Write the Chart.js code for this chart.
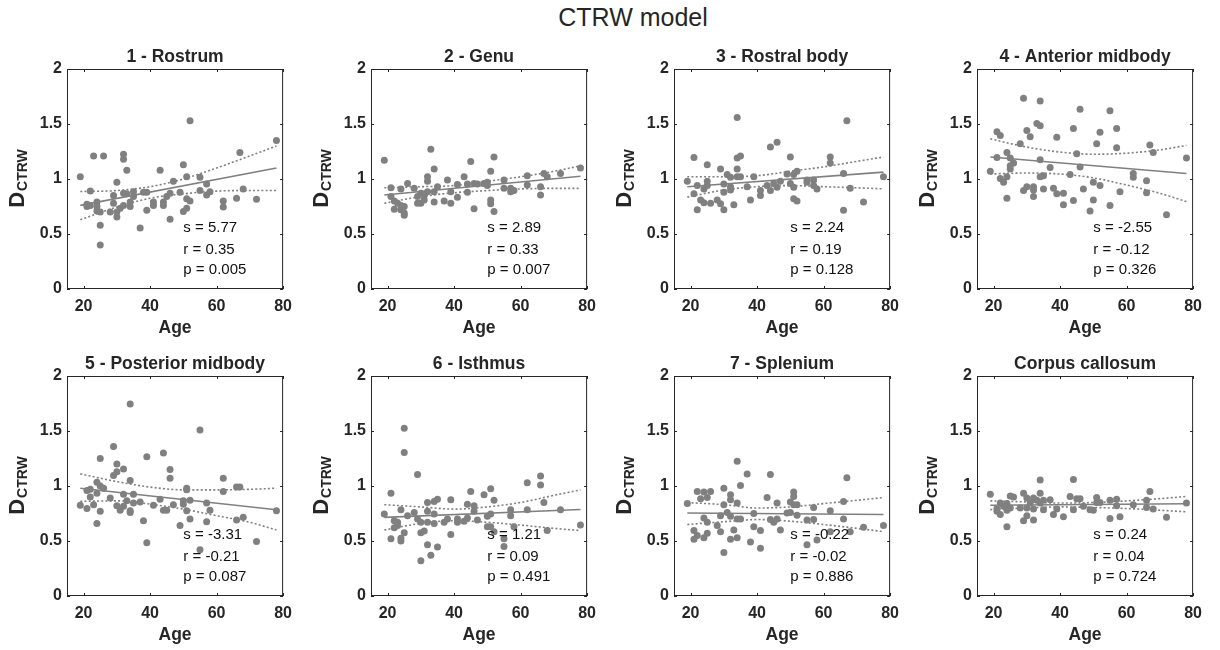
<!DOCTYPE html>
<html lang="en">
<head>
    <meta charset="UTF-8">
    <title>CTRW model</title>
    <script src="https://cdn.jsdelivr.net/npm/chart.js"></script>
    <style>
        body { margin: 0; background: #fff; }
        #wrap { position: relative; width: 1220px; height: 650px; overflow: hidden; }
        #wrap canvas { position: absolute; }
        #mainTitle {
            position: absolute; left: 533px; width: 200px; top: 3px;
            text-align: center; font: 25px "Liberation Sans", Arial, sans-serif; color: #262626;
        }
    </style>
</head>
<body>
<div id="wrap">
    <div id="mainTitle">CTRW model</div>
</div>
<script>
    // ages and D values per region
    const rostrum = [[19,1.02],[23,1.21],[26,1.21],[32,1.225],[32,1.18],[33,1.08],[22,0.89],[21,0.77],[21,0.75],[22,0.76],[24,0.79],[24,0.75],[24,0.71],[25,0.70],[25,0.58],[25,0.40],[28,0.70],[29,0.85],[29,0.78],[30,0.97],[30,0.70],[30,0.655],[31,0.735],[32,0.87],[32,0.76],[33,0.865],[34,0.79],[34,0.75],[35,0.885],[35,0.84],[37,0.555],[38,0.88],[39,0.88],[39,0.715],[41,0.79],[41,0.76],[43,1.08],[44,0.79],[44,0.76],[45,0.84],[46,0.87],[46,0.635],[47,0.98],[49,0.88],[50,1.13],[50,0.705],[51,1.02],[51,0.82],[51,0.735],[52,1.53],[52,0.80],[55,1.015],[55,0.895],[57,0.955],[57,0.855],[58,0.885],[62,0.80],[62,0.745],[66,0.825],[67,1.24],[68,0.91],[72,0.815],[78,1.35]];
    const genu = [[19,1.17],[21,0.92],[21,0.84],[22,0.80],[22,0.725],[23,0.78],[24,0.91],[24,0.76],[24,0.72],[25,0.75],[25,0.69],[25,0.67],[26,0.96],[28,0.915],[29,0.84],[29,0.78],[30,0.87],[30,0.78],[31,0.81],[31,0.85],[32,1.02],[32,0.98],[32,0.885],[33,1.27],[34,1.09],[34,0.79],[34,0.885],[35,0.93],[37,0.80],[38,0.99],[39,0.78],[39,0.885],[41,0.95],[41,0.835],[43,1.02],[44,0.955],[44,0.88],[45,1.16],[46,0.73],[46,0.96],[47,0.955],[49,0.96],[50,0.94],[50,0.97],[51,1.07],[51,0.81],[51,0.775],[52,1.20],[52,0.705],[55,0.99],[55,0.915],[57,0.915],[57,0.885],[58,0.895],[62,1.03],[62,0.945],[66,0.93],[66,0.855],[67,1.05],[68,1.02],[72,1.05],[78,1.10]];
    const rostralBody = [[19,0.98],[21,1.195],[21,0.865],[22,0.94],[22,0.72],[23,0.81],[24,0.785],[24,0.91],[25,1.13],[25,0.98],[25,0.94],[26,0.78],[28,0.81],[29,1.09],[29,0.775],[30,0.955],[30,0.88],[30,0.72],[31,1.04],[32,1.015],[32,0.93],[32,0.90],[33,0.765],[34,1.56],[34,1.19],[34,1.09],[34,1.02],[35,1.21],[35,1.02],[37,0.93],[38,0.81],[39,1.02],[41,0.895],[41,0.85],[43,0.94],[44,1.29],[44,0.895],[45,0.96],[46,1.335],[46,0.925],[47,0.98],[49,1.045],[50,1.20],[50,0.96],[51,1.04],[51,0.925],[51,0.82],[52,1.07],[52,0.80],[55,0.99],[55,0.97],[57,0.99],[57,0.94],[58,0.91],[62,1.20],[62,1.145],[66,1.05],[66,0.715],[67,1.53],[68,0.915],[72,0.79],[78,1.02]];
    const anteriorMidbody = [[19,1.07],[21,1.43],[21,1.195],[22,1.395],[22,1.005],[23,0.97],[24,1.24],[24,1.02],[24,0.825],[25,1.19],[25,1.12],[25,1.09],[26,1.145],[28,1.32],[29,1.735],[29,0.895],[30,1.44],[30,0.93],[31,1.385],[32,0.93],[32,0.90],[32,0.84],[33,1.505],[34,1.71],[34,1.485],[34,1.175],[34,1.02],[35,1.03],[35,0.91],[37,1.105],[38,0.915],[39,1.38],[39,0.865],[41,0.87],[41,0.765],[43,1.04],[44,1.46],[44,0.805],[45,1.23],[46,1.635],[46,1.11],[47,0.91],[49,0.71],[50,0.97],[50,0.81],[51,1.32],[52,1.425],[52,0.94],[55,1.62],[55,0.76],[57,1.46],[57,1.285],[58,0.885],[62,1.05],[62,1.015],[66,0.985],[66,0.875],[67,1.31],[68,1.24],[72,0.675],[78,1.19]];
    const posteriorMidbody = [[19,0.825],[21,0.96],[21,0.795],[22,0.97],[22,0.90],[23,0.83],[24,1.035],[24,0.935],[24,0.66],[25,1.25],[25,0.77],[25,1.00],[26,0.98],[28,0.89],[29,1.36],[29,1.095],[30,1.20],[30,1.13],[30,0.82],[31,0.78],[32,1.155],[32,0.925],[32,0.815],[33,0.865],[34,1.745],[34,1.05],[34,0.775],[34,0.76],[35,0.925],[35,0.845],[37,0.855],[38,0.685],[39,1.265],[39,0.485],[41,0.825],[43,0.88],[44,1.30],[44,0.78],[45,0.78],[46,1.15],[46,1.07],[47,0.83],[49,0.64],[50,0.865],[50,0.835],[51,0.98],[51,0.965],[51,0.775],[52,0.87],[52,0.70],[55,0.42],[55,1.51],[57,0.845],[57,0.675],[58,0.78],[62,1.07],[62,0.95],[66,0.99],[66,0.69],[67,0.99],[68,0.715],[72,0.495],[78,0.775]];
    const isthmus = [[19,0.745],[21,0.935],[21,0.52],[22,0.685],[22,0.62],[23,0.67],[23,0.64],[24,0.785],[24,0.525],[24,0.50],[25,1.525],[25,1.305],[25,0.575],[26,0.73],[28,0.76],[29,1.105],[29,0.70],[30,0.67],[30,0.575],[30,0.32],[31,0.59],[32,0.85],[32,0.77],[32,0.67],[32,0.465],[33,0.37],[34,0.86],[34,0.745],[34,0.66],[35,0.88],[35,0.445],[37,0.67],[38,0.70],[39,0.875],[39,0.56],[41,0.70],[41,0.67],[43,0.68],[44,0.835],[44,0.71],[45,0.95],[46,0.82],[46,0.77],[47,0.69],[49,0.92],[50,0.725],[50,0.63],[51,0.975],[51,0.745],[51,0.63],[52,0.87],[52,0.585],[55,0.52],[55,0.45],[57,0.785],[57,0.73],[58,0.63],[62,1.03],[62,0.785],[66,1.09],[66,1.01],[67,0.85],[68,0.595],[72,0.785],[78,0.645]];
    const splenium = [[19,0.84],[21,0.595],[21,0.515],[22,0.95],[22,0.55],[23,0.885],[24,0.945],[24,0.71],[24,0.53],[25,0.895],[25,0.67],[25,0.57],[26,0.95],[28,0.64],[29,0.73],[29,0.585],[30,0.98],[30,0.83],[30,0.395],[31,0.76],[32,0.92],[32,0.875],[32,0.725],[32,0.515],[33,0.60],[34,1.225],[34,0.845],[34,0.70],[34,0.53],[35,1.005],[35,0.70],[37,1.11],[38,0.49],[39,0.75],[39,0.63],[41,0.595],[41,0.435],[43,0.895],[44,1.105],[44,0.695],[45,0.67],[46,0.845],[46,0.70],[47,0.60],[49,0.755],[50,0.855],[50,0.76],[51,0.945],[51,0.905],[51,0.83],[52,0.83],[52,0.735],[55,0.69],[55,0.465],[57,0.805],[57,0.695],[58,0.51],[62,0.775],[62,0.585],[66,0.86],[66,0.70],[67,1.075],[68,0.585],[72,0.625],[78,0.64]];
    const corpusCallosum = [[19,0.925],[21,0.795],[21,0.77],[22,0.845],[22,0.74],[23,0.815],[24,0.84],[24,0.63],[24,0.78],[25,0.91],[25,0.80],[26,0.90],[28,0.80],[29,0.935],[29,0.685],[30,0.89],[30,0.80],[30,0.73],[31,0.845],[32,0.89],[32,0.79],[32,0.69],[33,0.87],[34,1.055],[34,0.935],[34,0.845],[35,0.87],[35,0.785],[37,0.875],[38,0.74],[39,0.79],[41,0.72],[43,0.905],[44,1.06],[44,0.785],[45,0.885],[46,0.885],[47,0.815],[49,0.785],[50,0.78],[51,0.895],[51,0.85],[52,0.85],[55,0.87],[55,0.705],[57,0.88],[57,0.82],[58,0.72],[62,0.83],[66,0.87],[66,0.805],[67,0.95],[68,0.79],[72,0.715],[78,0.845]];

    const panelTitles = ['1 - Rostrum', '2 - Genu', '3 - Rostral body', '4 - Anterior midbody',
        '5 - Posterior midbody', '6 - Isthmus', '7 - Splenium', 'Corpus callosum'];
    const panelPoints = [rostrum, genu, rostralBody, anteriorMidbody, posteriorMidbody, isthmus, splenium, corpusCallosum];

    // regression: slope (x1e-3), value at youngest age, r and p
    const slopes = [5.77, 2.89, 2.24, -2.55, -3.31, 1.21, -0.22, 0.24];
    const fitStart = [0.76, 0.855, 0.93, 1.2, 0.98, 0.715, 0.754, 0.825];
    const rValues = ['0.35', '0.33', '0.19', '-0.12', '-0.21', '0.09', '-0.02', '0.04'];
    const pValues = ['0.005', '0.007', '0.128', '0.326', '0.087', '0.491', '0.886', '0.724'];
    const fitAge = [19, 78];

    // 95% confidence band
    const ciAge = [19, 30, 40, 50, 60, 70, 78];
    const ciUpper = [
        [0.886, 0.895, 0.93, 1.0, 1.10, 1.21, 1.30],
        [0.92, 0.93, 0.94, 0.98, 1.02, 1.07, 1.12],
        [1.02, 1.02, 1.03, 1.07, 1.11, 1.16, 1.20],
        [1.365, 1.29, 1.245, 1.225, 1.235, 1.265, 1.305],
        [1.11, 1.04, 0.99, 0.965, 0.965, 0.97, 0.98],
        [0.83, 0.81, 0.79, 0.81, 0.85, 0.915, 0.965],
        [0.85, 0.83, 0.80, 0.81, 0.84, 0.87, 0.895],
        [0.865, 0.855, 0.845, 0.85, 0.865, 0.885, 0.905]
    ];
    const ciLower = [
        [0.63, 0.745, 0.825, 0.865, 0.89, 0.895, 0.895],
        [0.78, 0.84, 0.875, 0.895, 0.91, 0.915, 0.915],
        [0.835, 0.90, 0.93, 0.94, 0.93, 0.92, 0.91],
        [1.045, 1.055, 1.045, 1.01, 0.945, 0.87, 0.795],
        [0.86, 0.865, 0.835, 0.79, 0.73, 0.67, 0.60],
        [0.60, 0.66, 0.685, 0.67, 0.645, 0.615, 0.595],
        [0.65, 0.675, 0.695, 0.68, 0.65, 0.615, 0.585],
        [0.785, 0.80, 0.81, 0.805, 0.795, 0.78, 0.765]
    ];

    const xTicks = [20, 40, 60, 80];
    const yTicks = [0, 0.5, 1, 1.5, 2];

    const FONT = '"Liberation Sans", Arial, sans-serif';
    const INK = '#262626';
    const GRAY = '#808080';

    // box, inward ticks, titles, y label with subscript and the stats text
    const panelDecor = {
        id: 'panelDecor',
        afterDatasetsDraw(chart, args, opts) {
            const { ctx, chartArea: a, scales: { x, y } } = chart;
            ctx.save();
            ctx.strokeStyle = INK;
            ctx.lineWidth = 1;
            ctx.strokeRect(a.left + 0.5, a.top + 0.5, a.width - 1, a.height - 1);
            ctx.beginPath();
            xTicks.forEach(v => {
                const px = Math.round(x.getPixelForValue(v)) + 0.5;
                ctx.moveTo(px, a.bottom); ctx.lineTo(px, a.bottom - 3);
                ctx.moveTo(px, a.top); ctx.lineTo(px, a.top + 3);
            });
            yTicks.forEach(v => {
                const py = Math.round(y.getPixelForValue(v)) + 0.5;
                ctx.moveTo(a.left, py); ctx.lineTo(a.left + 3, py);
                ctx.moveTo(a.right, py); ctx.lineTo(a.right - 3, py);
            });
            ctx.stroke();

            const cx = (a.left + a.right) / 2;
            ctx.fillStyle = INK;
            ctx.textAlign = 'center';
            ctx.textBaseline = 'middle';
            ctx.font = 'bold 17.5px ' + FONT;
            ctx.fillText(opts.title, cx, a.top - 12);
            ctx.fillText('Age', cx, a.bottom + 39);

            // D with CTRW subscript, rotated
            ctx.save();
            ctx.translate(a.left - 43, (a.top + a.bottom) / 2);
            ctx.rotate(-Math.PI / 2);
            ctx.textAlign = 'left';
            ctx.textBaseline = 'alphabetic';
            ctx.font = 'bold 22px ' + FONT;
            const wD = ctx.measureText('D').width;
            ctx.font = 'bold 14px ' + FONT;
            const wSub = ctx.measureText('CTRW').width;
            const x0 = -(wD + wSub) / 2;
            ctx.font = 'bold 22px ' + FONT;
            ctx.fillText('D', x0, 0);
            ctx.font = 'bold 14px ' + FONT;
            ctx.fillText('CTRW', x0 + wD + 1, 3);
            ctx.restore();

            // regression stats
            ctx.fillStyle = '#111';
            ctx.textAlign = 'left';
            ctx.font = '15px ' + FONT;
            const tx = x.getPixelForValue(50);
            ctx.fillText('s = ' + opts.slope.toFixed(2), tx, y.getPixelForValue(0.555));
            ctx.fillText('r = ' + opts.r, tx, y.getPixelForValue(0.36));
            ctx.fillText('p = ' + opts.p, tx, y.getPixelForValue(0.17));
            ctx.restore();
        }
    };

    const canvasLeft = [1, 305, 608, 911];
    const canvasTop = [24, 331];
    const wrap = document.getElementById('wrap');

    panelPoints.forEach((pts, i) => {
        const canvas = document.createElement('canvas');
        canvas.width = 299;
        canvas.height = 320;
        canvas.style.left = canvasLeft[i % 4] + 'px';
        canvas.style.top = canvasTop[Math.floor(i / 4)] + 'px';
        wrap.appendChild(canvas);

        const fitEnd = fitStart[i] + slopes[i] / 1000 * (fitAge[1] - fitAge[0]);
        const tickFont = { family: FONT, size: 16, weight: 'bold' };

        new Chart(canvas.getContext('2d'), {
            type: 'scatter',
            data: {
                datasets: [
                    {
                        type: 'line',
                        data: [{ x: fitAge[0], y: fitStart[i] }, { x: fitAge[1], y: fitEnd }],
                        borderColor: GRAY, borderWidth: 1.6, pointRadius: 0, order: 1
                    },
                    {
                        type: 'line',
                        data: ciAge.map((a, k) => ({ x: a, y: ciUpper[i][k] })),
                        borderColor: GRAY, borderWidth: 1.6, borderDash: [2, 2.2],
                        pointRadius: 0, cubicInterpolationMode: 'monotone', order: 2
                    },
                    {
                        type: 'line',
                        data: ciAge.map((a, k) => ({ x: a, y: ciLower[i][k] })),
                        borderColor: GRAY, borderWidth: 1.6, borderDash: [2, 2.2],
                        pointRadius: 0, cubicInterpolationMode: 'monotone', order: 3
                    },
                    {
                        data: pts.map(p => ({ x: p[0], y: p[1] })),
                        backgroundColor: GRAY, borderWidth: 0, pointRadius: 3.5, order: 4
                    }
                ]
            },
            options: {
                responsive: false,
                animation: false,
                events: [],
                layout: { padding: { top: 45, right: 10, left: 0, bottom: 0 } },
                scales: {
                    x: {
                        type: 'linear', min: 15, max: 80,
                        grid: { display: false, drawTicks: false }, border: { display: false },
                        ticks: { font: tickFont, color: INK, padding: 8, maxRotation: 0, callback: v => String(v) },
                        afterBuildTicks: s => { s.ticks = xTicks.map(v => ({ value: v })); },
                        afterFit: s => { s.height = 55; }
                    },
                    y: {
                        type: 'linear', min: 0, max: 2,
                        grid: { display: false, drawTicks: false }, border: { display: false },
                        ticks: { font: tickFont, color: INK, padding: 5, callback: v => String(v) },
                        afterBuildTicks: s => { s.ticks = yTicks.map(v => ({ value: v })); },
                        afterFit: s => { s.width = 66; }
                    }
                },
                plugins: {
                    legend: { display: false },
                    tooltip: { enabled: false },
                    panelDecor: { title: panelTitles[i], slope: slopes[i], r: rValues[i], p: pValues[i] }
                }
            },
            plugins: [panelDecor]
        });
    });
</script>
</body>
</html>
